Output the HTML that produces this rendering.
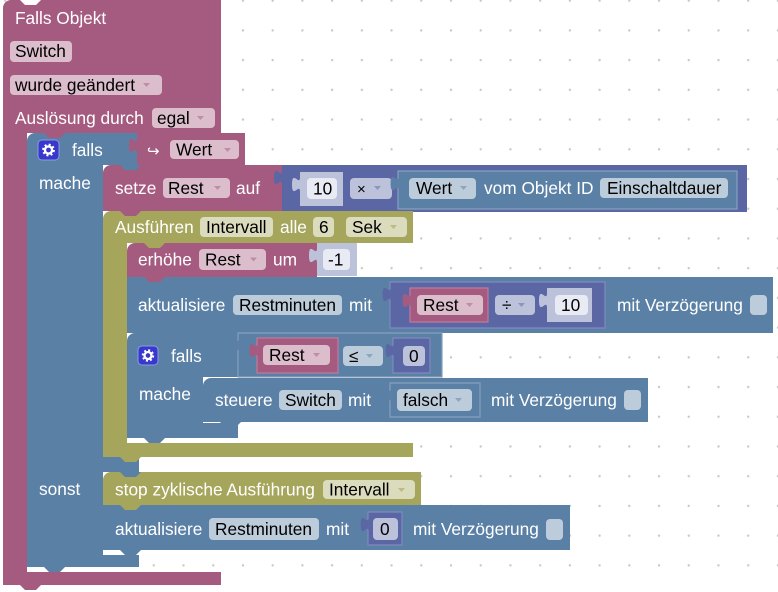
<!DOCTYPE html>
<html><head><meta charset="utf-8"><style>
html,body{margin:0;padding:0;background:#fff;width:778px;height:592px;overflow:hidden}
svg{display:block}
text{font-family:"Liberation Sans","DejaVu Sans",Arial,sans-serif;font-size:17.3px}
.w{fill:#fff}.b{fill:#000}
</style></head><body>
<svg width="778" height="592" viewBox="0 0 778 592" xmlns="http://www.w3.org/2000/svg">
<defs>
<pattern id="grid" x="-9.66" y="-14.16" width="29.72" height="29.72" patternUnits="userSpaceOnUse">
<circle cx="14.86" cy="14.86" r="1.2" fill="#c8c8c8"/>
</pattern>
</defs>
<rect width="778" height="592" fill="#fff"/>
<rect width="778" height="592" fill="url(#grid)"/>

<!-- Event block -->
<path fill="#a55b80" d="M3,8 A8,8 0 0 1 11,0 H221 V133 H27 V572 H221 V585 H3 Z"/>
<polygon fill="#fff" points="20,0 25,5 36,5 41,0"/>
<polygon fill="#a55b80" points="20,585 25,590 36,590 41,585"/>
<text class="w" x="15" y="24">Falls Objekt</text>
<rect x="10" y="41" width="62" height="21" rx="4" fill="#dbbdcc"/>
<text class="b" x="15" y="57">Switch</text>
<rect x="10" y="75" width="152" height="20" rx="4" fill="#dbbdcc"/>
<text class="b" x="15" y="91">wurde geändert</text>
<polygon points="143,83 150,83 146.5,87" fill="#a55b80" opacity=".5"/>
<text class="w" x="15" y="124">Auslösung durch</text>
<rect x="152" y="108" width="63" height="20" rx="4" fill="#dbbdcc"/>
<text class="b" x="157" y="124">egal</text>
<polygon points="197,116 204,116 200.5,120" fill="#a55b80" opacity=".5"/>

<!-- Outer falls -->
<path fill="#5b80a5" d="M27,141 A8,8 0 0 1 35,133 H137 V165 H103 V457 H139 V472 H103 V555 H139 V567 H27 Z"/>
<polygon fill="#a55b80" points="44,133 49,138 60,138 65,133"/>
<polygon fill="#5b80a5" points="44,567 49,572 60,572 65,567"/>
<rect x="38" y="140" width="21" height="20" rx="4" fill="#3838cc" stroke="#8c9ae0" stroke-width="1"/>
<circle cx="48.5" cy="150" r="3.6" fill="none" stroke="#fff" stroke-width="2.4"/>
<circle cx="48.5" cy="150" r="5.4" fill="none" stroke="#fff" stroke-width="2" stroke-dasharray="2 2.24"/>
<text class="w" x="72" y="156">falls</text>
<text class="w" x="39" y="189">mache</text>
<text class="w" x="39" y="495">sonst</text>

<!-- Wert trigger value -->
<path fill="#a55b80" d="M137,133 H245 V165 H137 Z"/>
<path fill="#a55b80" d="M137,138 c0,10 -8,-8 -8,7.5 s8,-2.5 8,7.5 Z"/>
<text class="w" x="147" y="156" style="font-size:15px">↪</text>
<rect x="170" y="140" width="69" height="19" rx="4" fill="#dbbdcc"/>
<text class="b" x="176" y="155.5">Wert</text>
<polygon points="224,148 231,148 227.5,152" fill="#a55b80" opacity=".5"/>

<!-- setze -->
<path fill="#a55b80" d="M103,173 A8,8 0 0 1 111,165 H285 V211 H103 Z"/>
<polygon fill="#5b80a5" points="120,165 125,170 136,170 141,165"/>
<text class="w" x="115" y="194">setze</text>
<rect x="163" y="178" width="67" height="20" rx="4" fill="#dbbdcc"/>
<text class="b" x="168" y="194">Rest</text>
<polygon points="214,186 221,186 217.5,190" fill="#a55b80" opacity=".5"/>
<text class="w" x="236" y="194">auf</text>

<!-- math × -->
<path fill="#5b67a5" d="M282,165 H747 V212 H282 Z"/>
<path fill="#5b67a5" d="M282,170 c0,10 -8,-8 -8,7.5 s8,-2.5 8,7.5 Z"/>
<path fill="#bdc2db" d="M300,172 H343 V206 H300 Z"/>
<path fill="#bdc2db" d="M300,177 c0,10 -8,-8 -8,7.5 s8,-2.5 8,7.5 Z"/>
<rect x="307" y="178" width="30" height="21" rx="4" fill="#e8eaf4"/>
<text class="b" x="313" y="194.5">10</text>
<rect x="350" y="178" width="42" height="21" rx="4" fill="#bdc2db"/>
<text class="b" x="357" y="194" style="font-size:15px">×</text>
<polygon points="374,186 381,186 377.5,190" fill="#5b67a5" opacity=".5"/>
<path fill="#5b80a5" stroke="#86a0bd" stroke-width="1.2" d="M398,171 H737 V209 H398 Z"/>
<path fill="#5b80a5" d="M398.6,176 c0,10 -8,-8 -8,7.5 s8,-2.5 8,7.5 Z"/>
<rect x="409" y="178" width="67" height="21" rx="4" fill="#bdccdb"/>
<text class="b" x="416" y="194">Wert</text>
<polygon points="460,186 467,186 463.5,190" fill="#5b80a5" opacity=".5"/>
<text class="w" x="484" y="194">vom Objekt ID</text>
<rect x="600" y="178" width="128" height="20" rx="4" fill="#bdccdb"/>
<text class="b" x="607" y="194">Einschaltdauer</text>

<!-- Olive Ausführen -->
<path fill="#a5a55b" d="M103,219 A8,8 0 0 1 111,211 H413 V243 H127 V443 H413 V457 H103 Z"/>
<polygon fill="#a55b80" points="120,211 125,216 136,216 141,211"/>
<polygon fill="#a5a55b" points="120,457 125,462 136,462 141,457"/>
<text class="w" x="115" y="233">Ausführen</text>
<rect x="200" y="217" width="73" height="20" rx="4" fill="#dbdbbd"/>
<text class="b" x="206" y="233">Intervall</text>
<text class="w" x="280" y="233">alle</text>
<rect x="313" y="217" width="21" height="20" rx="4" fill="#dbdbbd"/>
<text class="b" x="319" y="233">6</text>
<rect x="346" y="217" width="61" height="20" rx="4" fill="#dbdbbd"/>
<text class="b" x="352" y="233">Sek</text>
<polygon points="390,225 397,225 393.5,229" fill="#a5a55b" opacity=".6"/>

<!-- erhöhe -->
<path fill="#a55b80" d="M127,251 A8,8 0 0 1 135,243 H317 V277 H127 Z"/>
<polygon fill="#a5a55b" points="144,243 149,248 160,248 165,243"/>
<text class="w" x="138" y="265.5">erhöhe</text>
<rect x="199" y="249" width="67" height="21" rx="4" fill="#dbbdcc"/>
<text class="b" x="205" y="265.5">Rest</text>
<polygon points="250,257.5 257,257.5 253.5,261.5" fill="#a55b80" opacity=".5"/>
<text class="w" x="273" y="265.5">um</text>
<path fill="#bdc2db" d="M317,243 H357 V276 H317 Z"/>
<path fill="#bdc2db" d="M317,248 c0,10 -8,-8 -8,7.5 s8,-2.5 8,7.5 Z"/>
<rect x="323" y="249" width="27" height="21" rx="4" fill="#e8eaf4"/>
<text class="b" x="328" y="265.5">-1</text>

<!-- aktualisiere 1 -->
<path fill="#5b80a5" d="M127,277 H773 V333 H127 Z"/>
<polygon fill="#a55b80" points="144,277 149,282 160,282 165,277"/>
<text class="w" x="138" y="311">aktualisiere</text>
<rect x="233" y="295" width="109" height="20" rx="4" fill="#bdccdb"/>
<text class="b" x="239" y="311">Restminuten</text>
<text class="w" x="349" y="311">mit</text>
<path fill="#5b67a5" stroke="#7f89bf" stroke-width="1.2" d="M390,282 H605 V328 H390 Z"/>
<path fill="#5b67a5" d="M390.6,287 c0,10 -8,-8 -8,7.5 s8,-2.5 8,7.5 Z"/>
<path fill="#a55b80" stroke="#bf7a9d" stroke-width="1.2" d="M410,288 H488 V322 H410 Z"/>
<path fill="#a55b80" d="M410.6,293 c0,10 -8,-8 -8,7.5 s8,-2.5 8,7.5 Z"/>
<rect x="417" y="295" width="66" height="20" rx="4" fill="#dbbdcc"/>
<text class="b" x="423" y="311">Rest</text>
<polygon points="466,303 473,303 469.5,307" fill="#a55b80" opacity=".5"/>
<rect x="495" y="295" width="40" height="20" rx="4" fill="#bdc2db"/>
<text class="b" x="502" y="311">÷</text>
<polygon points="518,303 525,303 521.5,307" fill="#5b67a5" opacity=".5"/>
<path fill="#bdc2db" d="M547,288 H592 V322 H547 Z"/>
<path fill="#bdc2db" d="M547,293 c0,10 -8,-8 -8,7.5 s8,-2.5 8,7.5 Z"/>
<rect x="555" y="295" width="33" height="20" rx="4" fill="#e8eaf4"/>
<text class="b" x="561" y="311">10</text>
<text class="w" x="617" y="311">mit Verzögerung</text>
<rect x="750" y="295" width="17" height="20" rx="4" fill="#bdccdb"/>

<!-- inner falls -->
<path fill="#5b80a5" d="M127,341 A8,8 0 0 1 135,333 H238 V377 H203 V423 H238 V438 H127 Z"/>
<polygon fill="#5b80a5" points="144,438 149,443 160,443 165,438"/>
<rect x="138" y="346" width="20" height="19" rx="4" fill="#3838cc" stroke="#8c9ae0" stroke-width="1"/>
<circle cx="148" cy="355.5" r="3.5" fill="none" stroke="#fff" stroke-width="2.3"/>
<circle cx="148" cy="355.5" r="5.2" fill="none" stroke="#fff" stroke-width="2" stroke-dasharray="2 2.08"/>
<text class="w" x="171" y="362">falls</text>
<text class="w" x="139" y="400">mache</text>

<!-- compare -->
<path fill="#5b80a5" stroke="#86a0bd" stroke-width="1.2" d="M238,333 H442 V377 H238 Z"/>
<path fill="#5b80a5" d="M238.6,338 c0,10 -8,-8 -8,7.5 s8,-2.5 8,7.5 Z"/>
<path fill="#a55b80" stroke="#bf7a9d" stroke-width="1.2" d="M257,338 H338 V373 H257 Z"/>
<path fill="#a55b80" d="M257.6,343 c0,10 -8,-8 -8,7.5 s8,-2.5 8,7.5 Z"/>
<rect x="263" y="345" width="67" height="20" rx="4" fill="#dbbdcc"/>
<text class="b" x="269" y="361">Rest</text>
<polygon points="313,353 320,353 316.5,357" fill="#a55b80" opacity=".5"/>
<rect x="343" y="346" width="40" height="20" rx="4" fill="#bdccdb"/>
<text class="b" x="349" y="362">≤</text>
<polygon points="366,354 373,354 369.5,358" fill="#5b80a5" opacity=".5"/>
<path fill="#5b67a5" stroke="#7f89bf" stroke-width="1.2" d="M393,338 H430 V373 H393 Z"/>
<path fill="#5b67a5" d="M393.6,343 c0,10 -8,-8 -8,7.5 s8,-2.5 8,7.5 Z"/>
<rect x="403" y="346" width="22" height="20" rx="4" fill="#bdc2db"/>
<text class="b" x="409" y="362">0</text>

<!-- steuere -->
<path fill="#5b80a5" d="M203,386 A8,8 0 0 1 211,378 H648 V422 H203 Z"/>
<polygon fill="#5b80a5" points="220,422 225,427 236,427 241,422"/>
<text class="w" x="215" y="406">steuere</text>
<rect x="279" y="390" width="63" height="20" rx="4" fill="#bdccdb"/>
<text class="b" x="285" y="406">Switch</text>
<text class="w" x="348" y="406">mit</text>
<path fill="#5b80a5" stroke="#86a0bd" stroke-width="1.2" d="M390,383 H480 V417 H390 Z"/>
<path fill="#5b80a5" d="M390.6,388 c0,10 -8,-8 -8,7.5 s8,-2.5 8,7.5 Z"/>
<rect x="397" y="389" width="75" height="22" rx="4" fill="#bdccdb"/>
<text class="b" x="403" y="406">falsch</text>
<polygon points="455,398 462,398 458.5,402" fill="#5b80a5" opacity=".5"/>
<text class="w" x="491" y="406">mit Verzögerung</text>
<rect x="624" y="390" width="17" height="20" rx="4" fill="#bdccdb"/>

<!-- stop -->
<path fill="#a5a55b" d="M103,480 A8,8 0 0 1 111,472 H421 V505 H103 Z"/>
<polygon fill="#5b80a5" points="120,472 125,477 136,477 141,472"/>
<text class="w" x="115" y="495.5">stop zyklische Ausführung</text>
<rect x="323" y="480" width="92" height="19" rx="4" fill="#dbdbbd"/>
<text class="b" x="329" y="495.5">Intervall</text>
<polygon points="398,488 405,488 401.5,492" fill="#a5a55b" opacity=".6"/>

<!-- aktualisiere 2 -->
<path fill="#5b80a5" d="M103,505 H570 V550 H103 Z"/>
<polygon fill="#a5a55b" points="120,505 125,510 136,510 141,505"/>
<polygon fill="#5b80a5" points="120,550 125,555 136,555 141,550"/>
<text class="w" x="115" y="535">aktualisiere</text>
<rect x="209" y="518" width="110" height="22" rx="4" fill="#bdccdb"/>
<text class="b" x="215" y="535">Restminuten</text>
<text class="w" x="326" y="535">mit</text>
<path fill="#5b67a5" stroke="#7f89bf" stroke-width="1.2" d="M368,512 H402 V545 H368 Z"/>
<path fill="#5b67a5" d="M368.6,517 c0,10 -8,-8 -8,7.5 s8,-2.5 8,7.5 Z"/>
<rect x="373" y="518" width="25" height="22" rx="4" fill="#bdc2db"/>
<text class="b" x="380" y="535">0</text>
<text class="w" x="413" y="535">mit Verzögerung</text>
<rect x="546" y="519" width="17" height="21" rx="4" fill="#bdccdb"/>
</svg>
</body></html>
